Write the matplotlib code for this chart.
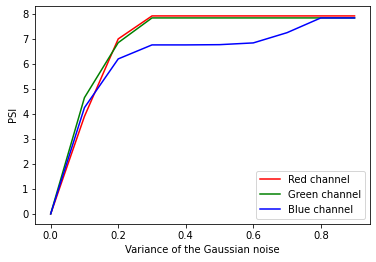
import matplotlib
matplotlib.use('Agg')
import matplotlib.pyplot as plt

variance = [0.0, 0.1, 0.2, 0.3, 0.4, 0.5, 0.6, 0.7, 0.8, 0.9]
red = [0.0, 3.9, 7.0, 7.92, 7.92, 7.92, 7.92, 7.92, 7.92, 7.92]
green = [0.0, 4.65, 6.85, 7.84, 7.84, 7.84, 7.84, 7.84, 7.84, 7.84]
blue = [0.0, 4.25, 6.2, 6.76, 6.76, 6.77, 6.84, 7.25, 7.84, 7.84]

fig = plt.figure(figsize=(376 / 72, 262 / 72), dpi=72)
ax = fig.add_axes([0.0944, 0.146, 0.889, 0.831])
ax.plot(variance, red, color='red', label='Red channel')
ax.plot(variance, green, color='green', label='Green channel')
ax.plot(variance, blue, color='blue', label='Blue channel')
ax.set_xlabel('Variance of the Gaussian noise')
ax.set_ylabel('PSI')
ax.legend(loc='lower right')
fig.savefig('out.png', dpi=72)
